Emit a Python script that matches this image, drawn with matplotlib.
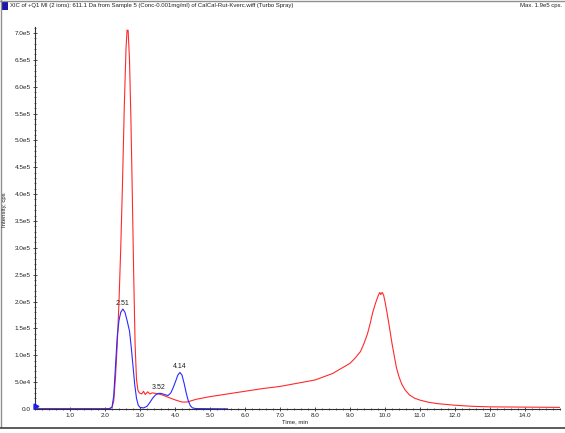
import matplotlib
matplotlib.use("Agg")
import matplotlib.pyplot as plt
from matplotlib.patches import Rectangle
from matplotlib.lines import Line2D
from matplotlib.ticker import MultipleLocator

plt.rcParams['font.family'] = ['Liberation Sans', 'DejaVu Sans']

# ---- data (intensity in cps) ----
red_t = [0.0, 2.0, 2.15, 2.2, 2.25, 2.3, 2.35, 2.4, 2.45, 2.5, 2.55, 2.6, 2.63, 2.66,
         2.7, 2.74, 2.78, 2.82, 2.86, 2.9, 2.94, 2.98, 3.05, 3.10, 3.15, 3.22, 3.28,
         3.35, 3.45, 3.6, 3.8, 4.0, 4.2, 4.35, 4.6, 5.0, 5.5, 6.0, 6.5, 7.0, 7.5, 8.0,
         8.5, 9.0, 9.15, 9.3, 9.4, 9.5, 9.58, 9.65, 9.73, 9.8, 9.85, 9.88, 9.92, 9.96,
         10.0, 10.05, 10.12, 10.2, 10.27, 10.33, 10.4, 10.48, 10.58, 10.7, 10.85,
         11.0, 11.25, 11.5, 12.0, 12.5, 13.0, 14.0, 15.0]
red_y = [500, 500, 1000, 3000, 15000, 60000, 120000, 200000, 300000, 420000, 560000,
         670000, 705000, 705000, 650000, 540000, 400000, 250000, 120000, 55000, 35000,
         30000, 28000, 33000, 27000, 32000, 28000, 30000, 29000, 27000, 22000, 17000,
         13000, 13000, 18000, 23000, 28000, 33000, 38000, 42000, 48000, 54000, 66000,
         85000, 95000, 107000, 122000, 140000, 160000, 180000, 197000, 210000, 217000,
         213000, 217000, 212000, 200000, 182000, 155000, 122000, 97000, 76000, 60000,
         46000, 35000, 26000, 20000, 16500, 12500, 10000, 7000, 5000, 4000, 3500, 3000]

blue_t = [0.0, 2.1, 2.2, 2.25, 2.3, 2.35, 2.4, 2.45, 2.51, 2.57, 2.63, 2.7, 2.75,
          2.8, 2.85, 2.9, 2.95, 3.0, 3.1, 3.2, 3.28, 3.36, 3.44, 3.52, 3.6, 3.7, 3.8,
          3.88, 3.95, 4.02, 4.08, 4.14, 4.2, 4.26, 4.32, 4.38, 4.44, 4.5, 4.6, 5.5]
blue_y = [300, 300, 3000, 25000, 80000, 135000, 165000, 180000, 186000, 180000,
          165000, 145000, 115000, 80000, 45000, 20000, 7000, 3000, 2000, 5000, 12000,
          20000, 26000, 29000, 29000, 27000, 25000, 30000, 40000, 52000, 63000, 68000,
          63000, 48000, 30000, 15000, 6000, 2000, 800, 300]

peak_labels = ["2.51", "3.52", "4.14"]
peak_t = [2.51, 3.52, 4.14]
peak_y = [186000, 29000, 68000]

ytick_vals = [0, 50000, 100000, 150000, 200000, 250000, 300000, 350000, 400000,
              450000, 500000, 550000, 600000, 650000, 700000]
ytick_labels = ["0.0", "5.0e4", "1.0e5", "1.5e5", "2.0e5", "2.5e5", "3.0e5", "3.5e5",
                "4.0e5", "4.5e5", "5.0e5", "5.5e5", "6.0e5", "6.5e5", "7.0e5"]
xtick_vals = [1, 2, 3, 4, 5, 6, 7, 8, 9, 10, 11, 12, 13, 14]
xtick_labels = ["1.0", "2.0", "3.0", "4.0", "5.0", "6.0", "7.0", "8.0", "9.0",
                "10.0", "11.0", "12.0", "13.0", "14.0"]

title = "XIC of +Q1 MI (2 ions): 611.1 Da from Sample 5 (Conc-0.001mg/ml) of CalCal-Rut-Kverc.wiff (Turbo Spray)"
max_text = "Max. 1.9e5 cps."

W, H = 565, 433
fig = plt.figure(figsize=(W / 100, H / 100), dpi=100)
fig.patch.set_facecolor("white")

def fx(px):
    return px / W

def fy(py):
    return 1 - py / H

ax = fig.add_axes([fx(35), fy(409), fx(560) - fx(35), fy(27) - fy(409)])
ax.plot(red_t, red_y, color="#ff2a2a", lw=0.8, zorder=3)
ax.plot(blue_t, blue_y, color="#2a2aff", lw=0.8, zorder=4)

for lab, t, y in zip(peak_labels, peak_t, peak_y):
    ax.annotate(lab, (t, y), xytext=(0, 1.5), textcoords="offset points",
                ha="center", va="bottom", fontsize=5, color="#202020", zorder=5)

ax.set_xlim(0, 15)
ax.set_ylim(0, 711000)
for s in ["top", "right"]:
    ax.spines[s].set_visible(False)
for s in ["left", "bottom"]:
    ax.spines[s].set_color("#303030")
    ax.spines[s].set_linewidth(0.8)

ax.set_yticks(ytick_vals)
ax.set_yticklabels(ytick_labels)
ax.set_xticks(xtick_vals)
ax.set_xticklabels(xtick_labels)
ax.yaxis.set_minor_locator(MultipleLocator(10000))
ax.xaxis.set_minor_locator(MultipleLocator(0.2))
ax.tick_params(axis="both", which="major", labelsize=4.6, colors="#303030",
               direction="inout", length=3, width=0.6, pad=1.5, labelcolor="#202020")
ax.tick_params(axis="both", which="minor", direction="inout", length=1.8,
               width=0.5, colors="#303030")

# start marker at origin
ax.plot([0.02], [5000], marker=">", color="#1a1aff", ms=3.5, clip_on=False, zorder=6)

# texts
fig.text(fx(10), fy(6), title, fontsize=4.3, va="center", ha="left", color="#202020")
fig.text(fx(562), fy(6), max_text, fontsize=4.3, va="center", ha="right", color="#202020")
fig.text(fx(308), fy(422), "Time, min", fontsize=4.3, va="center", ha="right", color="#202020")
fig.text(fx(5), fy(210), "Intensity, cps", fontsize=4.3, va="center", ha="center",
         rotation=90, color="#202020")

# blue title square
fig.patches.append(Rectangle((fx(2), fy(10)), fx(6), fy(2) - fy(10), transform=fig.transFigure,
                             facecolor="#1a1aa8", edgecolor="none"))
# frame lines
fig.lines.append(Line2D([0, 1], [fy(0.5), fy(0.5)], transform=fig.transFigure, color="#909090", lw=1))
fig.lines.append(Line2D([fx(0.5), fx(0.5)], [fy(0), fy(427)], transform=fig.transFigure, color="#909090", lw=1))
fig.lines.append(Line2D([0, 1], [fy(427.5), fy(427.5)], transform=fig.transFigure, color="#404040", lw=1.2))

fig.savefig("out.png", dpi=100, facecolor="white")
